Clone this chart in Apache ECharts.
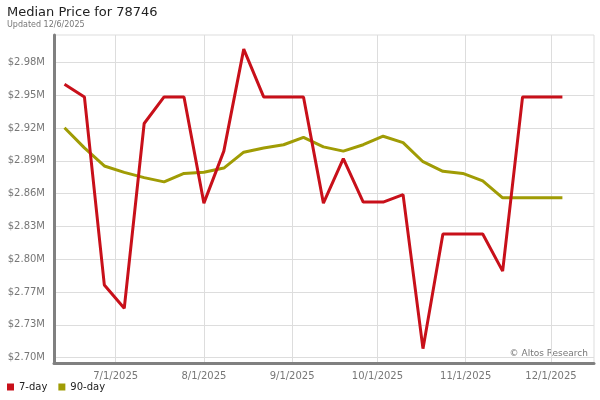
<!DOCTYPE html>
<html>
<head>
<meta charset="utf-8">
<script src="https://cdn.jsdelivr.net/npm/echarts@6/dist/echarts.min.js"></script>
<style>html,body{margin:0;padding:0;background:#fff}#c{width:600px;height:400px}</style>
</head>
<body>
<div id="c"></div>
<script>
var dates = ['2025-06-13','2025-06-20','2025-06-27','2025-07-04','2025-07-11','2025-07-18','2025-07-25',
  '2025-08-01','2025-08-08','2025-08-15','2025-08-22','2025-08-29','2025-09-05','2025-09-12','2025-09-19',
  '2025-09-26','2025-10-03','2025-10-10','2025-10-17','2025-10-24','2025-10-31','2025-11-07','2025-11-14',
  '2025-11-21','2025-11-28','2025-12-05'];
var sevenDay = [2961000,2949000,2772000,2750000,2924000,2949000,2949000,2849000,2898000,2994000,2949000,2949000,
  2949000,2849000,2891000,2850000,2850000,2857000,2712000,2820000,2820000,2820000,2785000,2949000,2949000,2949000];
var ninetyDay = [2920000,2901000,2884000,2878000,2873000,2869000,2877000,2878000,2882000,2897000,2901000,2904000,
  2911000,2902000,2898000,2904000,2912000,2906000,2888000,2879000,2877000,2870000,2854000,2854000,2854000,2854000];
var yTicks = [2703500,2734400,2765300,2796200,2827100,2858000,2888900,2919800,2950700,2981600];
var xTicks = ['2025-07-01','2025-08-01','2025-09-01','2025-10-01','2025-11-01','2025-12-01'];
var seriesNames = ['7-day','90-day'];

function ts(s){ var p=s.split('-'); return Date.UTC(+p[0], +p[1]-1, +p[2]); }
function pair(vals){ return dates.map(function(d,i){ return [ts(d), vals[i]]; }); }
var xTickTs = xTicks.map(ts);
var DAY = 86400000;

var chart = echarts.init(document.getElementById('c'), null, {renderer:'canvas'});
chart.setOption({
  animation:false,
  textStyle:{fontFamily:'DejaVu Sans'},
  title:[
    {text:'Median Price for 78746', left:7, top:6, padding:0, textStyle:{fontSize:13, fontWeight:'normal', color:'#222'}},
    {text:'Updated 12/6/2025', left:7, top:21, padding:0, textStyle:{fontSize:8, fontWeight:'normal', color:'#777'}}
  ],
  legend:{
    left:2, bottom:3, itemWidth:7, itemHeight:7, itemGap:11, icon:'rect',
    textStyle:{fontSize:10, color:'#222'},
    data:seriesNames
  },
  graphic:[{type:'text', right:12, bottom:42, style:{text:'\u00a9 Altos Research', fontSize:9, fill:'#777', fontFamily:'DejaVu Sans'}}],
  grid:{left:54, right:6, top:35, bottom:37, show:true, borderColor:'#ddd', borderWidth:1},
  xAxis:{
    type:'value',
    min:ts('2025-06-09') + 0.31*DAY, max:ts('2025-12-16') + 0.11*DAY,
    axisLine:{show:true, lineStyle:{color:'#808080', width:3}},
    axisTick:{show:false, customValues:xTickTs},
    axisLabel:{customValues:xTickTs, fontSize:10, color:'#777', margin:8, hideOverlap:false,
      formatter:function(v){ var d=new Date(v); return (d.getUTCMonth()+1)+'/'+d.getUTCDate()+'/'+d.getUTCFullYear(); }},
    splitLine:{show:true, lineStyle:{color:'#ddd', width:1}}
  },
  yAxis:{
    type:'value',
    min:2698500, max:3007300,
    axisLine:{show:true, lineStyle:{color:'#808080', width:3}},
    axisTick:{show:false, customValues:yTicks},
    axisLabel:{customValues:yTicks, fontSize:10, color:'#777', margin:9,
      formatter:function(v){ return '$'+(v/1e6).toFixed(2)+'M'; }},
    splitLine:{show:true, lineStyle:{color:'#ddd', width:1}}
  },
  series:[
    {name:seriesNames[0], type:'line', data:pair(sevenDay), symbol:'none', lineStyle:{color:'#c8101a', width:3}, itemStyle:{color:'#c8101a'}, z:3},
    {name:seriesNames[1], type:'line', data:pair(ninetyDay), symbol:'none', lineStyle:{color:'#a09c05', width:3}, itemStyle:{color:'#a09c05'}, z:2}
  ]
});
</script>
</body>
</html>
